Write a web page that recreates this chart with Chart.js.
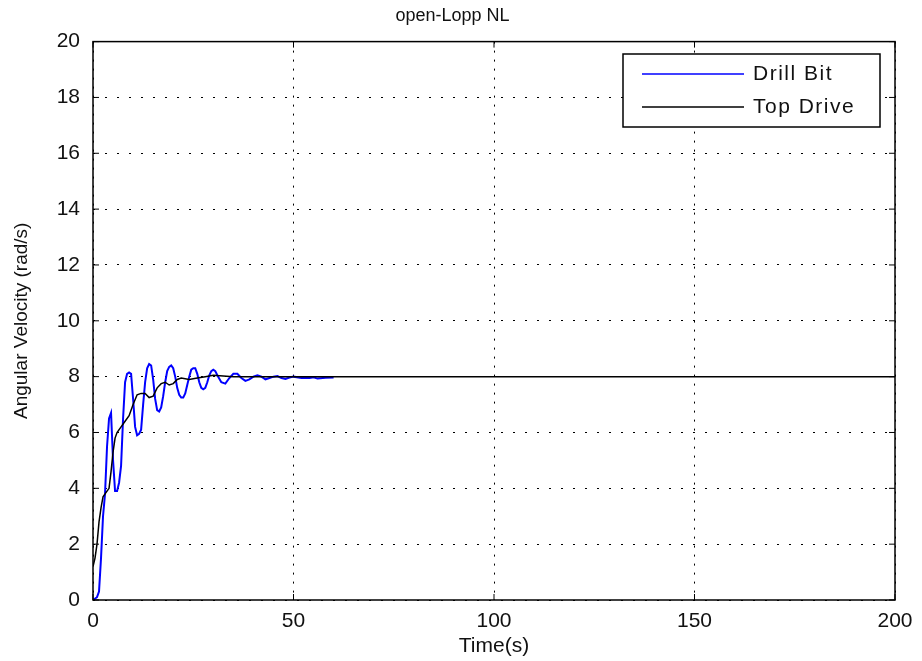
<!DOCTYPE html>
<html>
<head>
<meta charset="utf-8">
<script src="https://cdn.jsdelivr.net/npm/chart.js@4.4.1/dist/chart.umd.min.js"></script>
<style>
  html, body { margin: 0; padding: 0; background: #fff; }
  #wrap { width: 922px; height: 661px; position: relative; }
</style>
</head>
<body>
<div id="wrap"><canvas id="chart"></canvas></div>
<script>
// Drill Bit - оқылған мәндер (0..60 с)
const bitTime = [0, 1, 1.5, 2, 2.5, 3, 3.5, 4, 4.5, 5, 5.5, 6, 6.5, 7, 7.5, 8, 8.5, 9, 9.5, 10,
    10.5, 11, 11.5, 12, 12.5, 13, 13.5, 14, 14.5, 15, 15.5, 16, 16.5, 17, 17.5, 18, 18.5, 19, 19.5, 20,
    20.5, 21, 21.5, 22, 22.5, 23, 23.5, 24, 24.5, 25, 25.5, 26, 26.5, 27, 27.5, 28, 28.5, 29, 29.5, 30,
    30.5, 31, 32, 33, 34, 35, 36, 37, 38, 39, 40, 41, 42, 43, 44, 45, 46, 47, 48, 49, 50,
    52, 54, 55, 56, 58, 60];
const bitValues = [0, 0.1, 0.3, 1.5, 3.0, 3.8, 5.5, 6.5, 6.7, 5.0, 3.9, 3.9, 4.2, 4.8, 6.5, 7.8, 8.1, 8.15, 8.1, 7.2,
    6.2, 5.9, 5.95, 6.1, 7.0, 7.8, 8.3, 8.45, 8.4, 7.9, 7.2, 6.8, 6.75, 6.9, 7.3, 7.8, 8.2, 8.35, 8.4, 8.3,
    8.0, 7.6, 7.35, 7.25, 7.25, 7.4, 7.7, 8.0, 8.25, 8.3, 8.3, 8.1, 7.8, 7.6, 7.55, 7.6, 7.8, 8.05, 8.2, 8.25,
    8.2, 8.05, 7.8, 7.75, 7.95, 8.1, 8.1, 7.95, 7.85, 7.9, 8.0, 8.05, 8.0, 7.9, 7.95, 8.0, 8.02, 7.95, 7.92, 7.97, 8.0,
    7.95, 7.95, 7.98, 7.93, 7.96, 7.97];

// Top Drive
const topTime = [0, 0.5, 1, 1.5, 2, 2.5, 3, 3.5, 4, 4.5, 5, 5.5, 6, 7, 8, 9, 10, 11, 12, 13, 14, 15,
    16, 17, 18, 19, 20, 21, 22, 24, 26, 28, 30, 35, 40, 60, 200];
const topValues = [1.2, 1.5, 2.0, 2.8, 3.3, 3.7, 3.8, 3.9, 4.0, 4.6, 5.3, 5.8, 6.0, 6.2, 6.4, 6.6, 7.0, 7.35, 7.4, 7.4, 7.25, 7.3,
    7.6, 7.75, 7.8, 7.7, 7.75, 7.9, 7.95, 7.9, 7.95, 8.0, 8.05, 8.0, 8.0, 8.0, 8.0];

const seriesNames = ['Drill Bit', 'Top Drive'];
const xTicks = [0, 50, 100, 150, 200];
const yTicks = [0, 2, 4, 6, 8, 10, 12, 14, 16, 18, 20];

const toPoints = (xs, ys) => xs.map((x, i) => ({ x: x, y: ys[i] }));
const FONT = "'Liberation Sans', Arial, sans-serif";

// MATLAB тәрізді рамка, ішкі тик белгілері және легенда
const matlabFrame = {
    id: 'matlabFrame',
    afterDatasetsDraw(chart) {
        const { ctx, chartArea: a, scales } = chart;
        ctx.save();
        ctx.strokeStyle = '#000';
        ctx.lineWidth = 1.5;
        ctx.strokeRect(a.left, a.top, a.right - a.left, a.bottom - a.top);
        ctx.lineWidth = 1;
        ctx.beginPath();
        xTicks.forEach(v => {
            const px = scales.x.getPixelForValue(v);
            ctx.moveTo(px, a.bottom); ctx.lineTo(px, a.bottom - 6);
            ctx.moveTo(px, a.top); ctx.lineTo(px, a.top + 6);
        });
        yTicks.forEach(v => {
            const py = scales.y.getPixelForValue(v);
            ctx.moveTo(a.left, py); ctx.lineTo(a.left + 6, py);
            ctx.moveTo(a.right, py); ctx.lineTo(a.right - 6, py);
        });
        ctx.stroke();

        // легенда
        const bx = 623, by = 54, bw = 257, bh = 73;
        ctx.fillStyle = '#fff';
        ctx.fillRect(bx, by, bw, bh);
        ctx.lineWidth = 1.5;
        ctx.strokeStyle = '#000';
        ctx.strokeRect(bx, by, bw, bh);
        ctx.font = '21px ' + FONT;
        ctx.letterSpacing = '1.5px';
        ctx.textBaseline = 'middle';
        ctx.textAlign = 'left';
        chart.data.datasets.forEach((ds, i) => {
            const ly = by + 20 + i * 33;
            ctx.strokeStyle = ds.borderColor;
            ctx.lineWidth = 1.5;
            ctx.beginPath();
            ctx.moveTo(642, ly); ctx.lineTo(744, ly);
            ctx.stroke();
            ctx.fillStyle = '#111';
            ctx.fillText(ds.label, 753, ly);
        });
        ctx.restore();
    }
};

new Chart(document.getElementById('chart'), {
    type: 'line',
    data: {
        datasets: [
            {
                label: seriesNames[0],
                data: toPoints(bitTime, bitValues),
                borderColor: '#0000ff',
                borderWidth: 2,
                pointRadius: 0,
                tension: 0,
                order: 1
            },
            {
                label: seriesNames[1],
                data: toPoints(topTime, topValues),
                borderColor: '#000000',
                borderWidth: 1.5,
                pointRadius: 0,
                tension: 0,
                order: 0
            }
        ]
    },
    options: {
        responsive: true,
        maintainAspectRatio: false,
        animation: false,
        layout: { padding: { left: 10, right: 27, top: 0, bottom: 0 } },
        plugins: {
            legend: { display: false },
            tooltip: { enabled: false },
            title: {
                display: true,
                text: 'open-Lopp NL',
                color: '#111',
                font: { family: FONT, size: 18, weight: 'normal' },
                padding: { top: 5, bottom: 15 }
            }
        },
        scales: {
            x: {
                type: 'linear',
                min: 0, max: 200,
                afterBuildTicks: s => { s.ticks = xTicks.map(v => ({ value: v })); },
                afterFit: s => { s.height = 61; },
                ticks: { color: '#111', font: { family: FONT, size: 21 }, padding: 9, maxRotation: 0 },
                grid: { color: '#000', lineWidth: 1, drawTicks: false },
                border: { display: false, dash: [2, 7] },
                title: { display: true, text: 'Time(s)', color: '#111', font: { family: FONT, size: 21 }, padding: { top: 0, bottom: 2 } }
            },
            y: {
                type: 'linear',
                min: 0, max: 20,
                afterBuildTicks: s => { s.ticks = yTicks.map(v => ({ value: v })); },
                afterFit: s => { s.width = 83; },
                ticks: { color: '#111', font: { family: FONT, size: 21 }, padding: 13 },
                grid: { color: '#000', lineWidth: 1, drawTicks: false },
                border: { display: false, dash: [2, 10] },
                title: { display: true, text: 'Angular Velocity (rad/s)', color: '#111', font: { family: FONT, size: 19 }, padding: { top: 0, bottom: 0 } }
            }
        }
    },
    plugins: [matlabFrame]
});
</script>
</body>
</html>
